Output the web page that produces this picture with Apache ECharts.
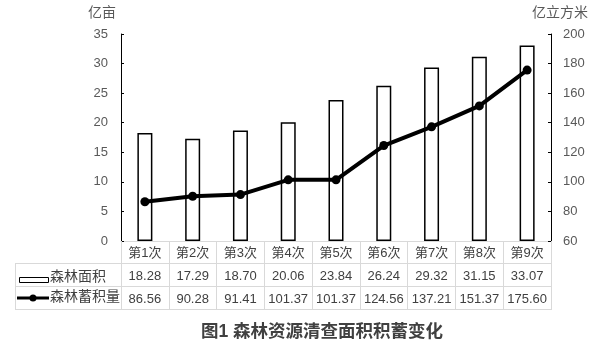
<!DOCTYPE html>
<html>
<head>
<meta charset="utf-8">
<script src="https://cdn.jsdelivr.net/npm/echarts@6/dist/echarts.min.js"></script>
<style>
  html, body { margin: 0; padding: 0; background: #fff; }
  #main { width: 600px; height: 354px; }
</style>
</head>
<body>
<div id="main"></div>
<script>
// 清查次数
var categories = ['第1次', '第2次', '第3次', '第4次', '第5次', '第6次', '第7次', '第8次', '第9次'];
// 森林面积 (亿亩)
var areaData = [18.28, 17.29, 18.70, 20.06, 23.84, 26.24, 29.32, 31.15, 33.07];
// 森林蓄积量 (亿立方米)
var volumeData = [86.56, 90.28, 91.41, 101.37, 101.37, 124.56, 137.21, 151.37, 175.60];

var fontFam = "'Liberation Sans', 'Noto Sans CJK SC', sans-serif";
var gridLineColor = '#d9d9d9';
var textColor = '#404040';

var chart = echarts.init(document.getElementById('main'));

var option = {
  animation: false,
  textStyle: { fontFamily: fontFam },
  grid: { left: 121, right: 49, top: 34, bottom: 113 },
  xAxis: {
    type: 'category',
    data: categories,
    axisLine: { show: true, lineStyle: { color: gridLineColor, width: 1 } },
    axisTick: { show: true, interval: 0, length: 69, lineStyle: { color: gridLineColor } },
    axisLabel: {
      interval: 0,
      margin: 1,
      color: textColor,
      fontSize: 13,
      lineHeight: 23,
      verticalAlign: 'top',
      formatter: function (v, i) {
        return v + '\n' + areaData[i].toFixed(2) + '\n' + volumeData[i].toFixed(2);
      }
    }
  },
  yAxis: [
    {
      type: 'value',
      min: 0, max: 35, interval: 5,
      splitLine: { show: false },
      axisLine: { show: true, lineStyle: { color: '#000', width: 1 } },
      axisTick: { show: true, inside: true, length: 3, lineStyle: { color: '#000' } },
      axisLabel: { color: '#595959', fontSize: 13, margin: 13 }
    },
    {
      type: 'value',
      min: 60, max: 200, interval: 20,
      position: 'right',
      splitLine: { show: false },
      axisLine: { show: true, lineStyle: { color: '#000', width: 1 } },
      axisTick: { show: true, inside: true, length: 3, lineStyle: { color: '#000' } },
      axisLabel: { color: '#595959', fontSize: 13, margin: 12 }
    }
  ],
  series: [
    {
      name: '森林面积',
      type: 'bar',
      data: areaData,
      barWidth: 15,
      itemStyle: { color: '#fff', borderColor: '#000', borderWidth: 1.5 }
    },
    {
      name: '森林蓄积量',
      type: 'line',
      yAxisIndex: 1,
      data: volumeData,
      symbol: 'circle',
      symbolSize: 9,
      lineStyle: { color: '#000', width: 4 },
      itemStyle: { color: '#000' }
    }
  ],
  graphic: [
    // 表格横线
    { type: 'line', shape: { x1: 15, y1: 263.5, x2: 551, y2: 263.5 }, style: { stroke: gridLineColor, lineWidth: 1 } },
    { type: 'line', shape: { x1: 15, y1: 286.5, x2: 551, y2: 286.5 }, style: { stroke: gridLineColor, lineWidth: 1 } },
    { type: 'line', shape: { x1: 15, y1: 309.5, x2: 551, y2: 309.5 }, style: { stroke: gridLineColor, lineWidth: 1 } },
    { type: 'line', shape: { x1: 15.5, y1: 263.5, x2: 15.5, y2: 309.5 }, style: { stroke: gridLineColor, lineWidth: 1 } },
    // 图例
    { type: 'rect', shape: { x: 19.5, y: 277.5, width: 29, height: 5 }, style: { fill: '#fff', stroke: '#000', lineWidth: 1 } },
    { type: 'text', left: 50, top: 270, style: { text: '森林面积', fill: textColor, font: '14px ' + fontFam } },
    { type: 'line', shape: { x1: 17, y1: 298, x2: 49, y2: 298 }, style: { stroke: '#000', lineWidth: 3 } },
    { type: 'circle', shape: { cx: 33, cy: 298, r: 3.5 }, style: { fill: '#000' } },
    { type: 'text', left: 50, top: 290, style: { text: '森林蓄积量', fill: textColor, font: '14px ' + fontFam } },
    // 轴名称
    { type: 'text', left: 88, top: 6, style: { text: '亿亩', fill: '#595959', font: '14px ' + fontFam } },
    { type: 'text', left: 532, top: 6, style: { text: '亿立方米', fill: '#595959', font: '14px ' + fontFam } },
    // 标题
    { type: 'text', left: 201, top: 323, style: { text: '图1 森林资源清查面积积蓄变化', fill: textColor, font: 'bold 17.5px ' + fontFam } }
  ]
};

chart.setOption(option);
</script>
</body>
</html>
